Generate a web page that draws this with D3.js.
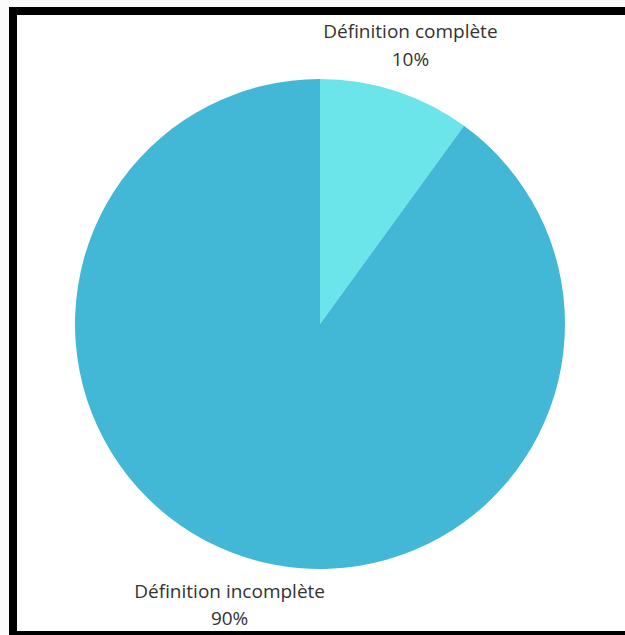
<!DOCTYPE html>
<html>
<head>
<meta charset="utf-8">
<script src="https://cdn.jsdelivr.net/npm/d3@7"></script>
<style>
  html, body { margin: 0; padding: 0; background: #fbfbfb; }
  svg { display: block; }
  text { font-family: "Open Sans", sans-serif; fill: #333; }
</style>
</head>
<body>
<svg id="chart" width="625" height="635"></svg>
<script>
// Share of answers with a complete vs. incomplete definition
const categories = ["Définition complète", "Définition incomplète"];
const values = [10, 90];
const colors = ["#6be4ea", "#43b7d6"];

const width = 625, height = 635;
const cx = 320, cy = 324, radius = 245, labelRadius = 292.5;
const lineGap = 27.5;

const svg = d3.select("#chart");

// framed panel
svg.append("rect")
  .attr("x", 13).attr("y", 11)
  .attr("width", 800).attr("height", 624)
  .attr("fill", "#ffffff")
  .attr("stroke", "#000")
  .attr("stroke-width", 8);

const data = categories.map((c, i) => ({ category: c, value: values[i] }));
const total = d3.sum(values);

const pie = d3.pie().value(d => d.value).sort(null);
const arc = d3.arc().innerRadius(0).outerRadius(radius);
const labelArc = d3.arc().innerRadius(labelRadius).outerRadius(labelRadius);

const color = d3.scaleOrdinal().domain(categories).range(colors);

const g = svg.append("g").attr("transform", `translate(${cx},${cy})`);

const arcs = pie(data);

g.selectAll("path.slice")
  .data(arcs)
  .join("path")
  .attr("class", "slice")
  .attr("d", arc)
  .attr("fill", d => color(d.data.category));

// two-line labels centred outside each slice
const labels = g.selectAll("text.label")
  .data(arcs)
  .join("text")
  .attr("class", "label")
  .attr("text-anchor", "middle")
  .attr("font-size", 19)
  .attr("transform", d => {
    const [x, y] = labelArc.centroid(d);
    const nudge = y < 0 ? -1.5 : 1.5;
    return `translate(${x},${y + nudge - 6})`;
  });

labels.append("tspan")
  .attr("x", 0).attr("y", 0)
  .text(d => d.data.category);
labels.append("tspan")
  .attr("x", 0).attr("y", lineGap)
  .text(d => d3.format(".0f")(d.data.value / total * 100) + "%");
</script>
</body>
</html>
